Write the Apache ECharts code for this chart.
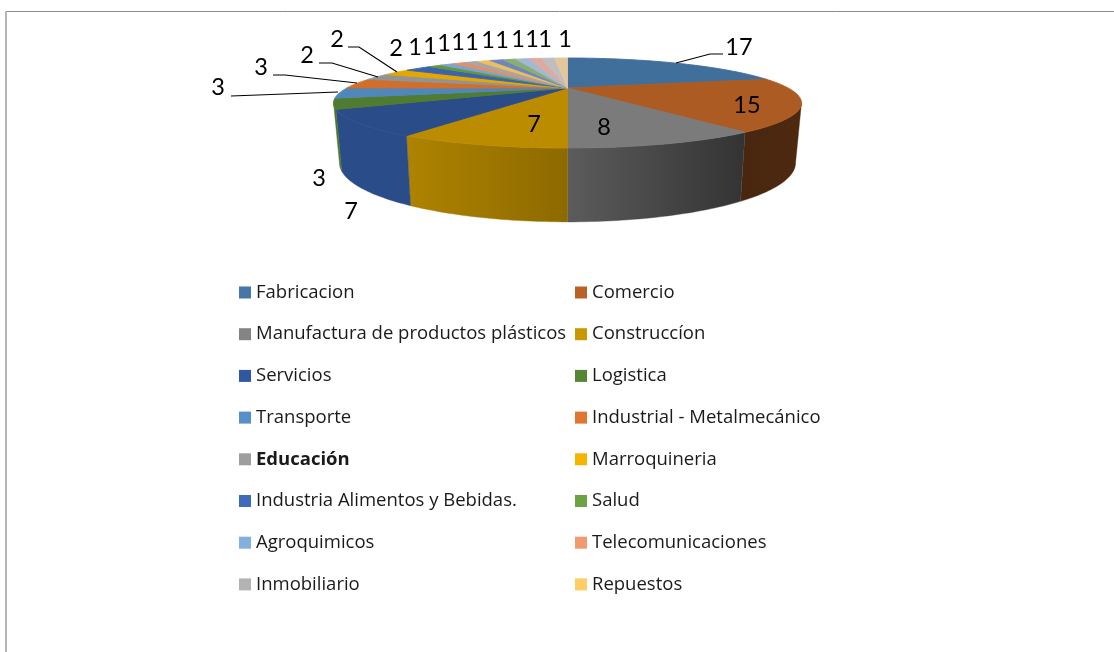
<!DOCTYPE html>
<html>
<head>
<meta charset="utf-8">
<style>html,body{margin:0;padding:0;background:#fff}#c{width:1114px;height:652px}</style>
<script src="https://cdn.jsdelivr.net/npm/echarts@6/dist/echarts.min.js"></script>
</head>
<body>
<div id="c"></div>
<script>
const categories = ['Fabricacion','Comercio','Manufactura de productos plásticos','Construccíon','Servicios','Logistica','Transporte','Industrial - Metalmecánico','Educación','Marroquineria','Industria Alimentos y Bebidas.','Salud','Agroquimicos','Telecomunicaciones','Inmobiliario','Repuestos'];
const values = [17,15,8,7,7,3,3,3,2,2,2,1,1,1,1,1,1,1,1,1,1,1];
const palette = ['#4577a8','#b96226','#848484','#c99700','#30589f','#568535','#5591c8','#e0762f','#9e9e9e','#f4b400','#3f6cb8','#6aa343','#84b0e0','#f19a72','#b3b3b3','#ffcc66','#7590cc','#94bb78','#aec6e6','#ecb8ac','#cccccc','#f4d6a8'];

// Drawing layout, kept apart from the data
const topDisc = {cx:567.5, cy:88, a:220.6, b:40, k:1/3};
const baseDisc = {cx:567.5, cy:143.3, a:215, b:52.4, k:1/3};
const labelSpots = [[739,47],[747,105],[604,127],[534,124],[351,211],[319,178],[218,87],[261,67],[307,55],[337,39],[396,48],[415,47],[430,46],[444,43],[458,42],[472,42],[488,40],[502,40],[518,39],[532,39],[545,39],[565,39]];
const leaders = {0:[[676,63],[710,54],[723,54]],6:[[231,96],[338,92]],7:[[273,75],[285,75],[357,83]],8:[[319,63],[332,63],[378,77]],9:[[348,47],[359,47],[397,72]]};

const total = values.reduce((s,v)=>s+v,0);
const starts = [];
values.reduce((s,v,i)=>{starts[i]=s;return s+v;},0);
const rad = d=>d*Math.PI/180;
function project(d,deg){
  const u=Math.sin(rad(deg)), v=Math.cos(rad(deg)), w=1+d.k*v;
  return [d.cx+d.a*u/w, d.cy-d.b*v/w];
}
function arc(d,from,to){
  const n=Math.max(2,Math.ceil(Math.abs(to-from)));
  const pts=[];
  for(let i=0;i<=n;i++) pts.push(project(d,from+(to-from)*i/n));
  return pts;
}
function scale(hex,f){
  const n=parseInt(hex.slice(1),16);
  const c=s=>Math.round(((n>>s)&255)*f);
  return 'rgb('+c(16)+','+c(8)+','+c(0)+')';
}
// brightness of the side wall by angle around the disc
const wallStops=[[109,0.42],[144,0.39],[180,0.70],[211.5,0.87],[251,0.87]];
function wallShade(deg){
  for(let i=1;i<wallStops.length;i++){
    const A=wallStops[i-1],B=wallStops[i];
    if(deg<=B[0]) return A[1]+(B[1]-A[1])*(deg-A[0])/(B[0]-A[0]);
  }
  return 0.87;
}
const topShade = i => i===4 ? 0.87 : 0.93;
const visFrom=180-Math.acos(1/3)*180/Math.PI, visTo=360-visFrom;

function renderSlice(params,api){
  const i=api.value(0), val=api.value(1);
  const start=starts[i]/total*360, end=(starts[i]+val)/total*360;
  const children=[];
  const wa=Math.max(start,visFrom), wb=Math.min(end,visTo);
  if(wb>wa){
    const t=arc(topDisc,wa,wb), b=arc(baseDisc,wa,wb).reverse();
    const sa=scale(palette[i],wallShade(wa)), sb=scale(palette[i],wallShade(wb));
    const goesLeft=t[0][0]>t[t.length-1][0];
    children.push({type:'polygon',shape:{points:t.concat(b)},
      style:{fill:new echarts.graphic.LinearGradient(0,0,1,0,[
        {offset:0,color:goesLeft?sb:sa},{offset:1,color:goesLeft?sa:sb}]),
        stroke:scale(palette[i],wallShade((wa+wb)/2)),lineWidth:0.4}});
  }
  const topCol=scale(palette[i],topShade(i));
  children.push({type:'polygon',
    shape:{points:[[topDisc.cx,topDisc.cy]].concat(arc(topDisc,start,end))},
    style:{fill:topCol,stroke:topCol,lineWidth:0.9}});
  return {type:'group',children};
}
function renderLabel(params,api){
  const i=api.value(0), val=api.value(1);
  const children=[];
  if(leaders[i]) children.push({type:'polyline',shape:{points:leaders[i]},style:{fill:null,stroke:'#000',lineWidth:1.2}});
  children.push({type:'text',style:{text:String(val),x:labelSpots[i][0],y:labelSpots[i][1],
    align:'center',verticalAlign:'middle',font:'23.5px Lato',fill:'#000'}});
  return {type:'group',children};
}

const series = values.map((v,i)=>({
  type:'custom',name:categories[i]||'',coordinateSystem:'none',silent:true,animation:false,
  itemStyle:{color:palette[i]},renderItem:renderSlice,data:[[i,v]],clip:false
}));
series.push({type:'custom',name:'',coordinateSystem:'none',silent:true,animation:false,z:5,
  renderItem:renderLabel,data:values.map((v,i)=>[i,v])});

function legendColumn(offset,left){
  const data=[];
  for(let i=offset;i<categories.length;i+=2){
    const item={name:categories[i],itemStyle:{color:palette[i]}};
    if(categories[i]==='Educación') item.textStyle={fontWeight:'bold'};
    data.push(item);
  }
  return {orient:'vertical',left,top:282,padding:0,itemWidth:12,itemHeight:12,itemGap:20.7,
    selectedMode:false,icon:'rect',data,
    textStyle:{fontFamily:'Open Sans',fontSize:18.5,color:'#1a1a1a',lineHeight:21}};
}

const chart=echarts.init(document.getElementById('c'),null,{renderer:'canvas'});
chart.setOption({
  animation:false,
  backgroundColor:'#fff',
  legend:[legendColumn(0,239),legendColumn(1,575)],
  series,
  graphic:[
    {type:'line',silent:true,shape:{x1:5,y1:11.5,x2:1114,y2:11.5},style:{stroke:'#8c8c8c',lineWidth:1}},
    {type:'line',silent:true,shape:{x1:6,y1:11,x2:6,y2:652},style:{stroke:'#b5b5b5',lineWidth:2}}
  ]
});
</script>
</body>
</html>
